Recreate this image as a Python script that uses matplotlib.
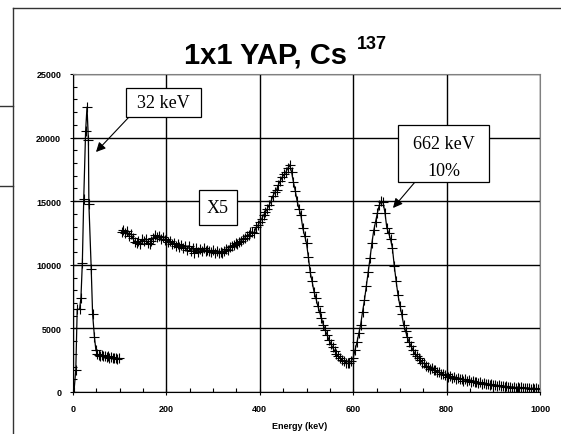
import numpy as np
import matplotlib
matplotlib.use("Agg")
import matplotlib.pyplot as plt
from matplotlib.lines import Line2D
from matplotlib.patches import Rectangle
from matplotlib.ticker import MultipleLocator

plt.rcParams['font.family'] = ['Liberation Sans', 'DejaVu Sans']

# low energy part (32 keV X-ray peak), raw counts
e_low = [2, 6, 9, 14, 17, 20, 23, 27, 30, 33, 34, 39, 42, 46, 49,
         52, 55, 58, 62, 65, 68, 72, 75, 78, 82, 85, 88, 92, 95, 98]
c_low = [0, 1750, 6500, 6500, 7400, 10150, 15200, 20500, 22400, 19800, 14800, 9700, 6100, 4300, 3300,
         3000, 2900, 2850, 2900, 2800, 2850, 2750, 2800, 2700, 2750, 2650, 2700, 2650, 2600, 2650]

# high energy part (scaled x5), 4 keV channels from 104 to 1000 keV
e_high = np.arange(104, 1001, 4)
c_high = [12600, 12700, 12500, 12650, 12300, 12450, 12100, 11800, 11700, 11900,
          11650, 12000, 11850, 12050, 11700, 11600, 11900, 12100, 12350, 12150,
          12300, 12050, 12200, 11950, 12000, 11800, 11900, 11600, 11750, 11500,
          11650, 11400, 11550, 11300, 11450, 11200, 11500, 11100, 11350, 10900,
          11300, 11000, 11250, 11100, 11300, 11050, 11200, 11100, 11000, 11150,
          10950, 11050, 10900, 11000, 10950, 11100, 11250, 11200, 11400, 11500,
          11550, 11700, 11650, 11800, 11900, 12000, 12100, 12300, 12350, 12550,
          12600, 12500, 12950, 13100, 13400, 13600, 13900, 14150, 14400, 14700,
          15000, 15400, 15700, 15900, 16300, 16600, 16900, 17100, 17300, 17600,
          17850, 17300, 16500, 15800, 15000, 14400, 13900, 12900, 12300, 11700,
          10600, 9400, 8700, 7900, 7400, 6800, 6300, 5800, 5300, 4850,
          4500, 4100, 3800, 3500, 3250, 3000, 2800, 2700, 2500, 2400,
          2300, 2250, 2300, 2450, 2700, 3300, 3900, 4600, 5300, 6300,
          7200, 8300, 9400, 10500, 11700, 12700, 13400, 14100, 14700, 15000,
          14900, 14100, 12900, 12500, 12000, 11300, 9900, 8700, 7600, 6800,
          6100, 5300, 4800, 4300, 3900, 3600, 3300, 3000, 2800, 2650,
          2500, 2300, 2250, 2050, 2000, 1800, 1850, 1700, 1700, 1550,
          1600, 1450, 1450, 1300, 1400, 1200, 1250, 1100, 1200, 1050,
          1100, 1000, 1050, 900, 1000, 850, 920, 800, 850, 750,
          800, 700, 760, 650, 700, 600, 660, 560, 600, 520,
          560, 480, 520, 440, 490, 400, 460, 380, 430, 350,
          400, 330, 390, 310, 370, 290, 350, 280, 330, 260,
          300, 250, 290, 230, 260]

W, H = 561, 435


def fx(x):
    return x / W


def fy(y):
    return 1 - y / H


fig = plt.figure(figsize=(W / 100, H / 100), dpi=100)
ax = fig.add_axes([fx(73), fy(393), (540 - 73) / W, (393 - 75) / H])

style = dict(color='black', lw=0.9, marker='+', ms=7, mew=0.8)
ax.plot(e_low, c_low, **style)
ax.plot(e_high, c_high, **style)

ax.set_xlim(0, 1000)
ax.set_ylim(0, 25000)
ax.xaxis.set_major_locator(MultipleLocator(200))
ax.xaxis.set_minor_locator(MultipleLocator(50))
ax.yaxis.set_major_locator(MultipleLocator(5000))
ax.yaxis.set_minor_locator(MultipleLocator(1000))
ax.grid(which='major', color='black', lw=1.0)
ax.tick_params(which='major', direction='inout', length=5, width=0.8, labelsize=6.5, pad=6)
ax.tick_params(which='minor', direction='in', length=3, width=0.8)
for lab in ax.get_xticklabels() + ax.get_yticklabels():
    lab.set_fontweight('bold')
for side in ['top', 'right']:
    ax.spines[side].set_color('#808080')
for side in ['left', 'bottom']:
    ax.spines[side].set_color('black')

fig.text(fx(300), fy(427), 'Energy (keV)', ha='center', va='center', fontsize=6.5, fontweight='bold')
fig.text(fx(265.5), fy(63), '1x1 YAP, Cs', ha='center', va='baseline', fontsize=21, fontweight='bold')
fig.text(fx(357), fy(49), '137', ha='left', va='baseline', fontsize=13, fontweight='bold')

# outer frame pieces
line_kw = dict(transform=fig.transFigure, color='#333333', lw=1)
fig.add_artist(Line2D([fx(13), fx(13)], [0, fy(8.5)], **line_kw))
fig.add_artist(Line2D([fx(13), 1], [fy(8.5), fy(8.5)], **line_kw))
fig.add_artist(Line2D([0, fx(13)], [fy(107), fy(107)], **line_kw))
fig.add_artist(Line2D([0, fx(13)], [fy(187), fy(187)], **line_kw))


def label_box(x0, y0, x1, y1):
    fig.add_artist(Rectangle((fx(x0), fy(y1)), (x1 - x0) / W, (y1 - y0) / H,
                             transform=fig.transFigure, facecolor='white',
                             edgecolor='black', lw=0.9, zorder=3))


serif = dict(family=['Liberation Serif', 'DejaVu Serif'], fontsize=13, ha='center', va='center', zorder=4)
label_box(126, 89, 201, 118)
fig.text(fx(163.5), fy(103.5), '32 keV', **serif)
label_box(398, 126, 489, 183)
fig.text(fx(443.5), fy(145), '662 keV', **serif)
fig.text(fx(443.5), fy(171), '10%', **serif)
label_box(199, 191, 237, 226)
fig.text(fx(218), fy(208.5), 'X5', **serif)

arrow = dict(arrowstyle='-|>', mutation_scale=14, lw=0.8, color='black', shrinkA=0, shrinkB=0)
ax.annotate('', xy=(fx(96), fy(153)), xytext=(fx(129), fy(118)),
            xycoords='figure fraction', textcoords='figure fraction', arrowprops=arrow)
ax.annotate('', xy=(fx(393), fy(209)), xytext=(fx(415), fy(183)),
            xycoords='figure fraction', textcoords='figure fraction', arrowprops=arrow)

fig.savefig('out.png', dpi=100)
